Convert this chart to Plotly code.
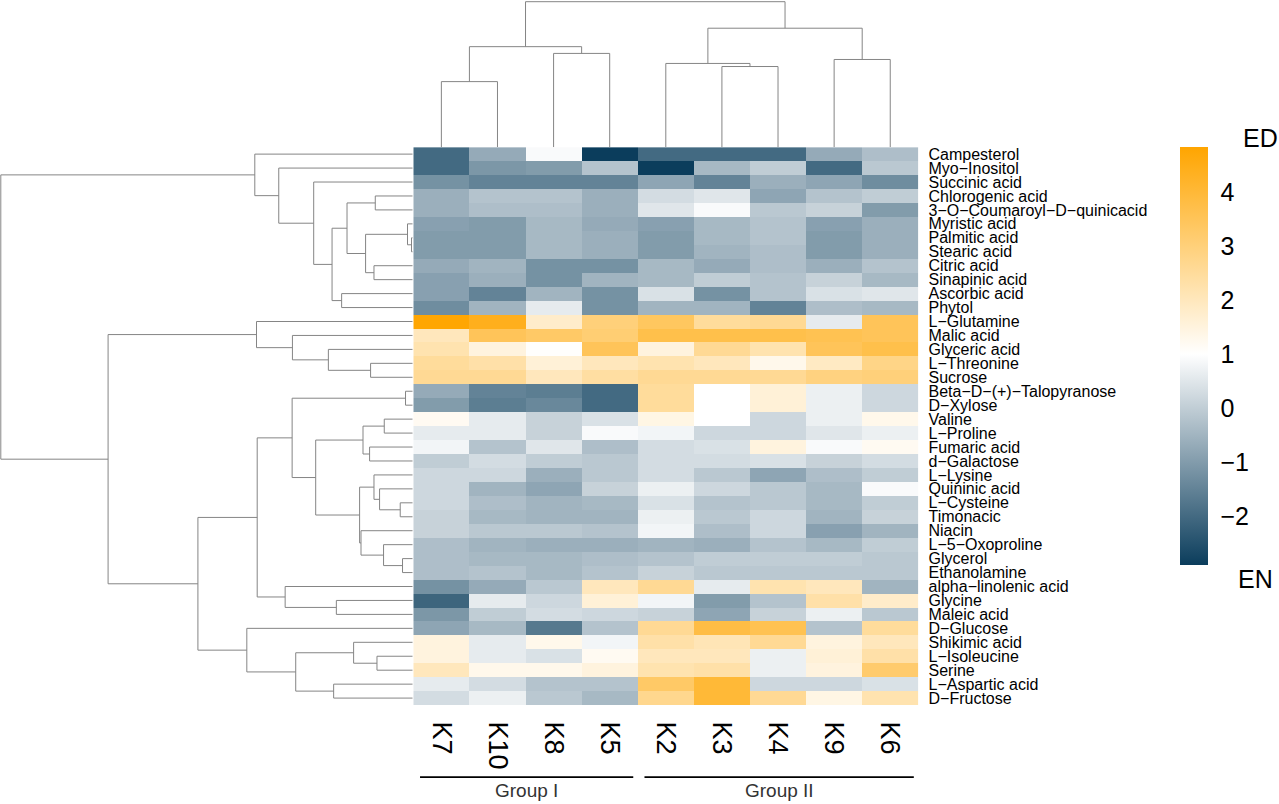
import plotly.graph_objects as go

# samples (columns) in dendrogram order
samples = ["K7", "K10", "K8", "K5", "K2", "K3", "K4", "K9", "K6"]

metabolites = [
    "Campesterol", "Myo−Inositol", "Succinic acid", "Chlorogenic acid",
    "3−O−Coumaroyl−D−quinicacid", "Myristic acid", "Palmitic acid", "Stearic acid",
    "Citric acid", "Sinapinic acid", "Ascorbic acid", "Phytol", "L−Glutamine",
    "Malic acid", "Glyceric acid", "L−Threonine", "Sucrose",
    "Beta−D−(+)−Talopyranose", "D−Xylose", "Valine", "L−Proline", "Fumaric acid",
    "d−Galactose", "L−Lysine", "Quininic acid", "L−Cysteine", "Timonacic", "Niacin",
    "L−5−Oxoproline", "Glycerol", "Ethanolamine", "alpha−linolenic acid", "Glycine",
    "Maleic acid", "D−Glucose", "Shikimic acid", "L−Isoleucine", "Serine",
    "L−Aspartic acid", "D−Fructose",
]

# scaled values per sample, one entry per metabolite (same order as above)
K7 = [-2.0, -2.0, -1.2, -0.6, -0.6, -0.9, -1.0, -1.0, -0.7, -0.9, -0.9, -1.3, 4.8,
      2.0, 2.2, 2.5, 2.6, -0.7, -1.0, 1.2, 0.6, 0.8, 0.0, 0.2, 0.2, 0.2, 0.1, 0.1,
      -0.3, -0.3, -0.3, -1.2, -2.1, -1.1, -0.8, 1.5, 1.5, 2.0, 0.6, 0.3]
K10 = [-0.7, -1.1, -1.5, -0.2, -0.3, -1.0, -1.0, -1.0, -0.5, -0.6, -1.5, -0.5, 4.4,
       3.5, 1.5, 2.3, 2.6, -1.5, -1.6, 0.6, 0.6, -0.2, 0.3, 0.2, -0.5, -0.3, -0.4, -0.1,
       -0.5, -0.4, -0.2, -0.7, 0.6, 0.0, -0.4, 0.6, 0.6, 1.3, 0.3, 0.7]
K8 = [0.9, -1.0, -1.5, -0.2, -0.3, -0.4, -0.4, -0.4, -1.2, -1.2, -0.5, 0.6, 1.8,
      3.3, 1.05, 1.6, 2.0, -1.6, -1.4, 0.1, 0.1, 0.5, 0.0, -0.6, -0.8, -0.5, -0.5, -0.1,
      -0.6, -0.4, -0.4, -0.1, 0.2, 0.3, -1.7, 1.3, 0.4, 1.3, -0.2, -0.1]
K5 = [-2.9, -0.2, -1.5, -0.6, -0.6, -0.7, -0.6, -0.6, -1.2, -0.5, -1.2, -1.2, 3.0,
      3.1, 3.5, 2.0, 2.4, -2.0, -2.0, 0.4, 0.9, -0.3, -0.1, -0.1, 0.1, -0.4, -0.5, -0.2,
      -0.6, -0.3, -0.2, 2.0, 1.6, 0.2, -0.2, 0.8, 1.2, 1.5, -0.2, -0.4]
K2 = [-2.0, -2.9, -0.8, 0.3, 0.5, -0.9, -1.0, -1.0, -0.4, -0.4, 0.4, -0.5, 3.4,
      3.7, 1.5, 2.2, 2.6, 2.5, 2.5, 1.4, 0.8, 0.3, 0.3, 0.3, 0.7, 0.4, 0.7, 0.8,
      -0.5, -0.2, 0.1, 2.6, 0.8, 0.1, 2.6, 2.3, 2.0, 2.2, 3.3, 2.7]
K3 = [-2.0, -0.4, -1.5, 0.5, 0.9, -0.4, -0.4, -0.5, -0.7, 0.0, -1.2, -0.5, 2.5,
      3.7, 2.6, 2.0, 2.6, 1.0, 1.0, 1.0, 0.2, 0.4, 0.3, -0.1, 0.2, -0.2, -0.1, -0.3,
      -0.6, 0.0, -0.1, 0.6, -1.0, -0.8, 3.8, 2.1, 2.0, 2.3, 4.0, 4.0]
K4 = [-2.0, 0.0, -0.6, -0.8, -0.1, -0.2, -0.2, -0.3, -0.3, -0.2, -0.2, -1.5, 2.6,
      3.7, 2.2, 1.3, 2.6, 1.6, 1.6, 0.2, 0.2, 1.5, 0.4, -0.8, -0.1, -0.1, 0.2, 0.2,
      -0.2, 0.0, -0.1, 2.2, -0.2, 0.1, 3.6, 2.6, 0.7, 0.7, 0.2, 2.6]
K9 = [-0.7, -2.0, -0.8, -0.2, 0.1, -0.9, -1.0, -1.0, -0.6, 0.1, 0.4, -0.3, 0.6,
      3.6, 3.5, 1.9, 2.9, 0.7, 0.7, 0.7, 0.5, 0.9, 0.1, -0.3, -0.4, -0.4, -0.5, -0.9,
      -0.4, 0.0, -0.1, 2.0, 2.3, 0.7, -0.2, 1.5, 1.6, 1.5, 0.2, 1.4]
K6 = [-0.3, -0.1, -1.3, 0.0, -1.0, -0.6, -0.6, -0.6, -0.2, -0.4, 0.5, -0.4, 3.5,
      3.5, 3.7, 2.8, 3.0, 0.2, 0.2, 1.3, 0.7, 1.2, 0.3, 0.0, 0.9, 0.0, 0.1, -0.5,
      0.0, -0.1, -0.1, -0.5, 1.8, -0.1, 2.5, 2.0, 2.3, 3.2, 0.4, 2.2]

# dendrogram merges: (left, right, height); new nodes numbered from n
col_links = [(0, 1, 66.0), (2, 3, 94.4), (9, 10, 101.2), (5, 6, 81.2), (4, 12, 84.3),
             (7, 8, 88.3), (13, 14, 119.8), (11, 15, 146.5)]
row_links = [(6, 7, 1.0), (5, 40, 5.0), (3, 4, 37.3), (8, 9, 38.6), (41, 43, 47.0),
             (42, 44, 65.6), (10, 11, 71.0), (45, 46, 80.6), (2, 47, 99.0), (1, 48, 134.0),
             (0, 49, 158.0), (15, 16, 42.0), (14, 51, 84.3), (13, 52, 120.3), (12, 53, 156.3),
             (17, 18, 7.0), (19, 20, 28.3), (21, 22, 43.0), (56, 57, 49.6), (25, 26, 12.3),
             (24, 59, 33.0), (23, 60, 38.6), (29, 30, 10.0), (28, 62, 29.0), (27, 63, 51.6),
             (61, 64, 53.0), (58, 65, 97.0), (55, 66, 120.6), (32, 33, 76.3), (31, 68, 127.6),
             (67, 69, 155.6), (36, 37, 35.6), (35, 71, 59.0), (38, 39, 79.0), (72, 73, 117.0),
             (34, 74, 166.0), (70, 75, 215.0), (54, 76, 305.0), (50, 77, 412.5)]

groups = [("Group I", 0, 3), ("Group II", 4, 8)]

cols = [K7, K10, K8, K5, K2, K3, K4, K9, K6]
z = [list(r) for r in zip(*cols)]
n_rows, n_cols = len(metabolites), len(samples)


def dendro(links, n):
    pos = [float(i) for i in range(n)]
    hgt = [0.0] * n
    p, h = [], []
    for a, b, d in links:
        p += [pos[a], pos[a], pos[b], pos[b], None]
        h += [hgt[a], d, d, hgt[b], None]
        pos.append((pos[a] + pos[b]) / 2)
        hgt.append(d)
    return p, h


W, H = 1279, 804
hx0, hx1, hy0, hy1 = 413.3, 918.3, 146.7, 706.7
xdom = [hx0 / W, hx1 / W]
ydom = [1 - hy1 / H, 1 - hy0 / H]

navy, orange = "#0b3d5c", "#ffa500"
lc = "#858585"

fig = go.Figure()
fig.add_trace(go.Heatmap(
    z=z, x=list(range(n_cols)), y=list(range(n_rows)),
    zmin=-2.9, zmax=4.83,
    colorscale=[[0, navy], [0.5045, "#ffffff"], [1, orange]],
    xaxis="x", yaxis="y", hoverinfo="skip",
    colorbar=dict(x=1180 / W, xanchor="left", y=1 - 146.7 / H, yanchor="top",
                  len=420 / H, lenmode="fraction", thickness=28, thicknessmode="pixels",
                  outlinewidth=0, xpad=0, ypad=0,
                  tickvals=[-2, -1, 0, 1, 2, 3, 4], ticks="outside", ticklen=8,
                  tickcolor="rgba(0,0,0,0)", tickfont=dict(size=25, color="black")),
))

cx, cy = dendro(col_links, n_cols)
fig.add_trace(go.Scatter(x=cx, y=cy, mode="lines", line=dict(color=lc, width=1),
                         xaxis="x2", yaxis="y2", hoverinfo="skip", showlegend=False))
ry, rx = dendro(row_links, n_rows)
fig.add_trace(go.Scatter(x=rx, y=ry, mode="lines", line=dict(color=lc, width=1),
                         xaxis="x3", yaxis="y3", hoverinfo="skip", showlegend=False))

shapes, annotations = [], []
for name, first, last in groups:
    shapes.append(dict(type="line", xref="x", yref="paper", x0=first - 0.38, x1=last + 0.42,
                       y0=1 - 779 / H, y1=1 - 779 / H, line=dict(color="black", width=1.6)))
    annotations.append(dict(x=(first + last) / 2 + 0.02, y=1 - 792 / H, xref="x", yref="paper",
                            xanchor="center", yanchor="middle",
                            text=name, showarrow=False, font=dict(size=19, color="#333333")))
annotations.append(dict(x=1260 / W, y=1 - 138 / H, xref="paper", yref="paper", text="ED",
                        xanchor="center", yanchor="middle",
                        showarrow=False, font=dict(size=25, color="black")))
annotations.append(dict(x=1255 / W, y=1 - 580 / H, xref="paper", yref="paper", text="EN",
                        xanchor="center", yanchor="middle",
                        showarrow=False, font=dict(size=25, color="black")))

fig.update_layout(
    width=W, height=H, margin=dict(l=0, r=0, t=0, b=0),
    paper_bgcolor="white", plot_bgcolor="white",
    font=dict(family="Liberation Sans, Arial, sans-serif", color="black"),
    xaxis=dict(domain=xdom, range=[-0.5, n_cols - 0.5], tickvals=list(range(n_cols)),
               ticktext=samples, tickangle=90, tickfont=dict(size=27),
               ticks="outside", ticklen=10, tickcolor="rgba(0,0,0,0)",
               showgrid=False, zeroline=False, showline=False, anchor="y"),
    yaxis=dict(domain=ydom, range=[n_rows - 0.5, -0.5], tickvals=list(range(n_rows)),
               ticktext=metabolites, side="right", tickfont=dict(size=16),
               ticks="outside", ticklen=6, tickcolor="rgba(0,0,0,0)",
               showgrid=False, zeroline=False, showline=False, anchor="x"),
    xaxis2=dict(domain=xdom, range=[-0.5, n_cols - 0.5], visible=False, anchor="y2"),
    yaxis2=dict(domain=[ydom[1], 1], range=[0, 147.2], visible=False, anchor="x2"),
    xaxis3=dict(domain=[0, xdom[0]], range=[hx0, -0.8], visible=False, anchor="y3"),
    yaxis3=dict(domain=ydom, range=[n_rows - 0.5, -0.5], visible=False, anchor="x3"),
    shapes=shapes, annotations=annotations,
)

# page body has a default 8px margin; drop it so the figure fills the window
fig.write_html("out.html", config={"displayModeBar": False},
               post_script="document.body.style.margin='0';")
